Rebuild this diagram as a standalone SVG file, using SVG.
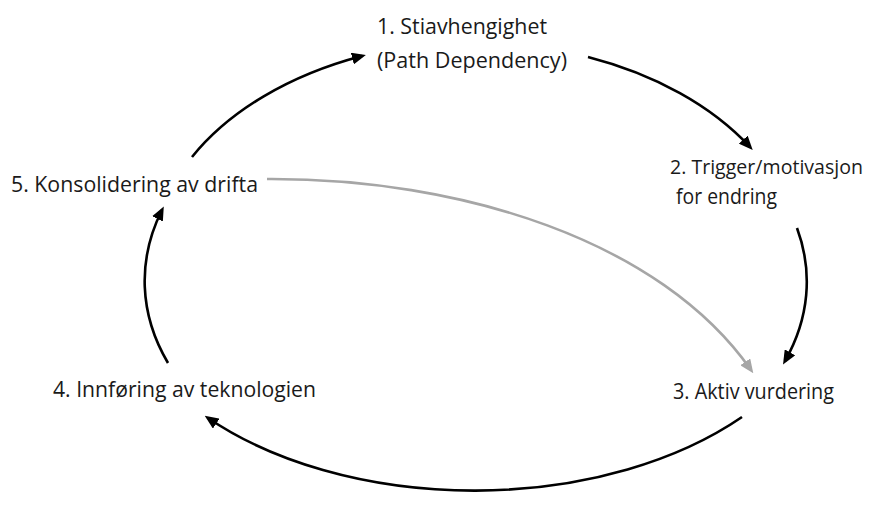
<svg xmlns="http://www.w3.org/2000/svg" width="870" height="516" viewBox="0 0 870 516">
<style>
.lbl{font-family:"Open Sans","Noto Sans","Liberation Sans",sans-serif;font-size:21px;fill:#1a1a1a}
.arc{fill:none;stroke:#000;stroke-width:2.6}
.gray{fill:none;stroke:#a6a6a6;stroke-width:2.6}
</style>
<defs>
<marker id="ah" markerUnits="userSpaceOnUse" markerWidth="14" markerHeight="12" viewBox="0 0 14 12" refX="10" refY="6" orient="auto">
<path d="M0,0 L14,6 L0,12 z" fill="#000"/>
</marker>
<marker id="ahg" markerUnits="userSpaceOnUse" markerWidth="14" markerHeight="12" viewBox="0 0 14 12" refX="10" refY="6" orient="auto">
<path d="M0,0 L14,6 L0,12 z" fill="#a6a6a6"/>
</marker>
</defs>
<g id="connectors">
<path class="arc" d="M192,157 A330,222 0 0 1 362,56" marker-end="url(#ah)"/>
<path class="arc" d="M588,57 A330,222 0 0 1 750,147" marker-end="url(#ah)"/>
<path class="arc" d="M797,228 A330,222 0 0 1 785,361" marker-end="url(#ah)"/>
<path class="arc" d="M742,417 A360,222 0 0 1 208,418" marker-end="url(#ah)"/>
<path class="arc" d="M168,363 A330,222 0 0 1 162,210" marker-end="url(#ah)"/>
<path class="gray" d="M267,179 C460,178 660,240 751,370" marker-end="url(#ahg)"/>
</g>
<g id="node1">
<text class="lbl" x="377" y="34" textLength="170" lengthAdjust="spacingAndGlyphs">1. Stiavhengighet</text>
<text class="lbl" x="377" y="68" textLength="190" lengthAdjust="spacingAndGlyphs">(Path Dependency)</text>
</g>
<g id="node2">
<text class="lbl" x="670" y="174" style="font-size:19.5px" textLength="193" lengthAdjust="spacingAndGlyphs">2. Trigger/motivasjon</text>
<text class="lbl" x="676" y="204" textLength="101" lengthAdjust="spacingAndGlyphs">for endring</text>
</g>
<g id="node3">
<text class="lbl" x="673" y="399" textLength="161" lengthAdjust="spacingAndGlyphs">3. Aktiv vurdering</text>
</g>
<g id="node4">
<text class="lbl" x="53" y="397" textLength="263" lengthAdjust="spacingAndGlyphs">4. Innføring av teknologien</text>
</g>
<g id="node5">
<text class="lbl" x="11" y="192" textLength="247" lengthAdjust="spacingAndGlyphs">5. Konsolidering av drifta</text>
</g>
</svg>
